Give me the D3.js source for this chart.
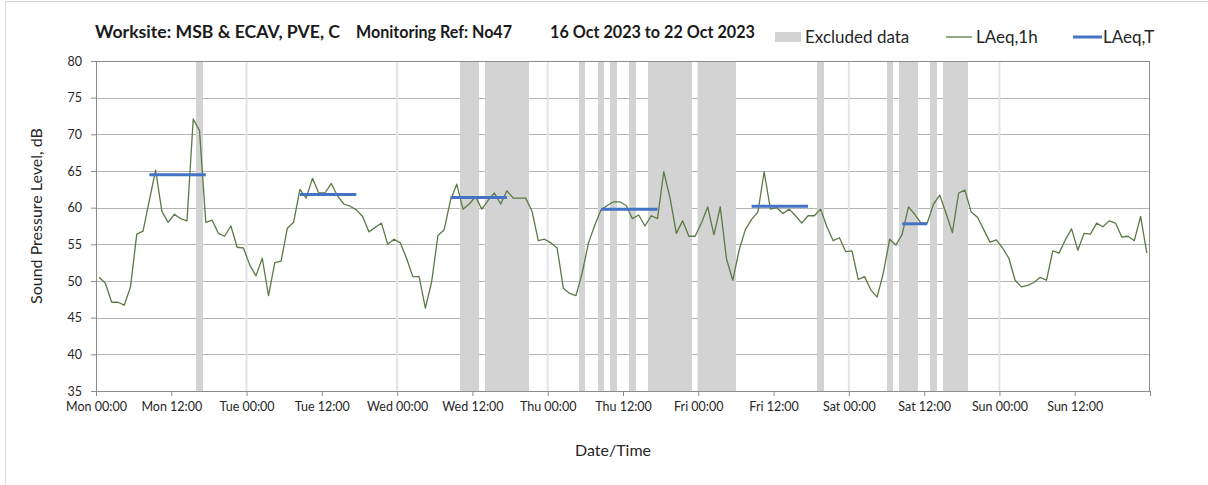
<!DOCTYPE html>
<html>
<head>
<meta charset="utf-8">
<script src="https://cdn.jsdelivr.net/npm/d3@7"></script>
<style>
  body { margin: 0; background: #fff; }
  svg { display: block; }
  text { font-family: Lato, "Open Sans", sans-serif; fill: #262626; }
</style>
</head>
<body>
<div class="vis-chart"></div>
<script>
// hourly LAeq,1h readings, one array per day (00:00 .. 23:00)
const mon = [50.5, 49.7, 47.1, 47.1, 46.7, 49.2, 56.4, 56.8, 61.0, 65.1, 59.5, 58.0,
  59.1, 58.5, 58.2, 72.1, 70.5, 58.0, 58.3, 56.5, 56.1, 57.5, 54.6, 54.5];
const tue = [52.2, 50.7, 53.1, 48.0, 52.5, 52.7, 57.2, 58.0, 62.5, 61.3, 64.0, 62.0,
  62.0, 63.3, 61.6, 60.5, 60.2, 59.7, 58.8, 56.7, 57.3, 57.9, 55.0, 55.7];
const wed = [55.2, 53.1, 50.6, 50.6, 46.3, 49.9, 56.2, 57.0, 61.0, 63.2, 59.8, 60.5,
  61.5, 59.8, 61.0, 62.0, 60.5, 62.3, 61.3, 61.3, 61.3, 59.5, 55.5, 55.7];
const thu = [55.2, 54.5, 49.0, 48.3, 48.0, 51.1, 55.2, 57.6, 59.7, 60.3, 60.8, 60.8,
  60.3, 58.5, 59.0, 57.5, 58.9, 58.5, 64.9, 61.3, 56.5, 58.2, 56.1, 56.1];
const fri = [57.9, 60.1, 56.3, 60.1, 53.0, 50.1, 54.2, 57.0, 58.4, 59.4, 64.9, 59.8,
  60.0, 59.2, 59.8, 58.9, 57.9, 58.9, 58.9, 59.8, 57.4, 55.5, 55.9, 54.0];
const sat = [54.1, 50.2, 50.6, 48.8, 47.8, 51.1, 55.7, 54.9, 56.4, 60.1, 59.1, 57.9,
  57.9, 60.5, 61.7, 59.2, 56.6, 62.0, 62.4, 59.4, 58.7, 57.0, 55.3, 55.6];
const sun = [54.5, 53.1, 50.1, 49.2, 49.4, 49.8, 50.5, 50.1, 54.1, 53.8, 55.6, 57.1,
  54.2, 56.5, 56.4, 57.9, 57.4, 58.2, 57.9, 56.0, 56.1, 55.5, 58.8, 53.8];
const laeq1h = [].concat(mon, tue, wed, thu, fri, sat, sun);

// excluded hours (hour index from Mon 00:00)
const excludedHours = [16, 58, 59, 60, 62, 63, 64, 65, 66, 67, 68, 77, 80, 82, 85,
  88, 89, 90, 91, 92, 93, 94, 96, 97, 98, 99, 100, 101, 115, 126,
  128, 129, 130, 133, 135, 136, 137, 138];

// LAeq,T periods: first hour, last hour, level
const periodStart = [8, 32, 56, 80, 104, 128];
const periodEnd = [17, 41, 65, 89, 113, 132];
const periodLevel = [64.5, 61.8, 61.4, 59.8, 60.2, 57.8];

const tickLabels = ["Mon 00:00", "Mon 12:00", "Tue 00:00", "Tue 12:00", "Wed 00:00",
  "Wed 12:00", "Thu 00:00", "Thu 12:00", "Fri 00:00", "Fri 12:00", "Sat 00:00",
  "Sat 12:00", "Sun 00:00", "Sun 12:00"];
const yTicks = [35, 40, 45, 50, 55, 60, 65, 70, 75, 80];

const W = 1208, H = 485;
const margin = { top: 61, right: 58, bottom: 94, left: 96 };
const width = W - margin.left - margin.right;
const height = H - margin.top - margin.bottom;

const svg = d3.select(".vis-chart").append("svg")
  .attr("width", W).attr("height", H);

// outer chart border
svg.append("rect")
  .attr("x", 5.5).attr("y", 1.5).attr("width", W + 20).attr("height", H + 20)
  .attr("fill", "none").attr("stroke", "#d9d9d9");

const g = svg.append("g")
  .attr("transform", "translate(" + margin.left + "," + margin.top + ")");

const x = d3.scaleLinear().domain([0, 168]).range([0, width]);
const y = d3.scaleLinear().domain([35, 80]).range([height, 0]);

// horizontal grid
g.append("g").selectAll("line").data(yTicks.slice(1)).join("line")
  .attr("x1", 0).attr("x2", width)
  .attr("y1", d => Math.round(y(d)) + 0.5).attr("y2", d => Math.round(y(d)) + 0.5)
  .attr("stroke", "#b4b4b4").attr("stroke-width", 1);

// day separators
g.append("g").selectAll("line").data(d3.range(24, 168, 24)).join("line")
  .attr("x1", d => x(d)).attr("x2", d => x(d))
  .attr("y1", 0).attr("y2", height)
  .attr("stroke", "#e4e4e4").attr("stroke-width", 2);

// excluded data bars
g.append("g").selectAll("rect").data(excludedHours).join("rect")
  .attr("x", d => x(d)).attr("width", d => x(d + 1) - x(d))
  .attr("y", 0).attr("height", height)
  .attr("fill", "#d3d3d3").attr("shape-rendering", "crispEdges");

// plot frame (top and right)
g.append("path")
  .attr("d", "M0,0.5H" + (width - 0.5) + "V" + height)
  .attr("fill", "none").attr("stroke", "#8c8c8c");

// LAeq,1h line
g.append("path")
  .datum(laeq1h)
  .attr("fill", "none")
  .attr("stroke", "#5a7a44")
  .attr("stroke-width", 1.3)
  .attr("stroke-linejoin", "round")
  .attr("d", d3.line().x((d, i) => x(i + 0.5)).y(d => y(d)));

// LAeq,T lines
g.append("g").selectAll("line").data(periodLevel).join("line")
  .attr("x1", (d, i) => x(periodStart[i] + 0.5))
  .attr("x2", (d, i) => x(periodEnd[i] + 0.5))
  .attr("y1", d => y(d)).attr("y2", d => y(d))
  .attr("stroke", "#4472c4").attr("stroke-width", 3);

// axes
const xAxis = g.append("g")
  .attr("transform", "translate(0," + height + ")")
  .call(d3.axisBottom(x)
    .tickValues(d3.range(0, 169, 12))
    .tickSize(5)
    .tickSizeOuter(0)
    .tickFormat((d, i) => tickLabels[i] || ""));
xAxis.select(".domain").attr("stroke", "#8c8c8c");
xAxis.selectAll(".tick line").attr("stroke", "#8c8c8c");
xAxis.selectAll(".tick text")
  .attr("dy", "0.95em").attr("y", 8)
  .style("font-size", "12.5px").style("fill", "#262626");

const yAxis = g.append("g")
  .call(d3.axisLeft(y).tickValues(yTicks).tickSize(5).tickSizeOuter(0)
    .tickFormat(d3.format("d")));
yAxis.select(".domain").attr("stroke", "#8c8c8c");
yAxis.selectAll(".tick line").attr("stroke", "#8c8c8c");
yAxis.selectAll(".tick text")
  .attr("x", -14)
  .style("font-size", "12.5px").style("fill", "#262626");

// axis titles
svg.append("text")
  .attr("transform", "translate(42,216) rotate(-90)")
  .attr("text-anchor", "middle")
  .style("font-size", "16px")
  .text("Sound Pressure Level, dB");

svg.append("text")
  .attr("x", 613).attr("y", 456)
  .attr("text-anchor", "middle")
  .style("font-size", "16px")
  .text("Date/Time");

// title
const titleParts = [
  { x: 95, len: 245, t: "Worksite: MSB & ECAV, PVE, C" },
  { x: 356, len: 156, t: "Monitoring Ref: No47" },
  { x: 550, len: 205, t: "16 Oct 2023 to 22 Oct 2023" }
];
svg.append("g").selectAll("text").data(titleParts).join("text")
  .attr("x", d => d.x).attr("y", 38)
  .attr("textLength", d => d.len).attr("lengthAdjust", "spacingAndGlyphs")
  .style("font-size", "16.5px").style("font-weight", "bold")
  .style("fill", "#1a1a1a")
  .text(d => d.t);

// legend
const leg = svg.append("g");
leg.append("rect").attr("x", 775).attr("y", 32).attr("width", 26).attr("height", 10)
  .attr("fill", "#d3d3d3");
leg.append("text").attr("x", 805).attr("y", 43).style("font-size", "17px").text("Excluded data");
leg.append("line").attr("x1", 946).attr("x2", 972).attr("y1", 37).attr("y2", 37)
  .attr("stroke", "#5a7a44").attr("stroke-width", 1.3);
leg.append("text").attr("x", 976).attr("y", 43).style("font-size", "17px").text("LAeq,1h");
leg.append("line").attr("x1", 1073).attr("x2", 1102).attr("y1", 37).attr("y2", 37)
  .attr("stroke", "#4472c4").attr("stroke-width", 3);
leg.append("text").attr("x", 1103).attr("y", 43).style("font-size", "17px").text("LAeq,T");
</script>
</body>
</html>
